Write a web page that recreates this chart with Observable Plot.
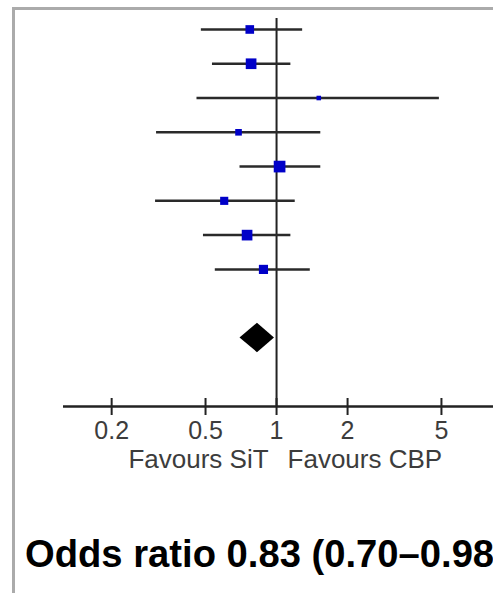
<!DOCTYPE html>
<html><head><meta charset="utf-8">
<script src="https://cdn.jsdelivr.net/npm/d3@7"></script>
<script src="https://cdn.jsdelivr.net/npm/@observablehq/plot@0.6"></script>
<style>
html,body{margin:0;padding:0;background:#fff;overflow:hidden;width:493px;height:593px;}
#chart{position:absolute;left:0;top:0;}
#frame{position:absolute;left:12px;top:7px;width:600px;height:700px;border-left:3px solid #ababab;border-top:3px solid #ababab;}
#title{position:absolute;left:25px;top:535px;font:bold 38.2px "Liberation Sans",Arial,sans-serif;line-height:38px;white-space:nowrap;color:#000;}
</style></head><body>
<div id="chart"></div>
<div id="frame"></div>
<div id="title"></div>
<script>
// Study odds ratios (top to bottom), 95% CI bounds and weights (%)
const oddsRatio = [0.77, 0.78, 1.51, 0.69, 1.03, 0.60, 0.75, 0.88];
const ciLow     = [0.48, 0.535, 0.46, 0.31, 0.70, 0.307, 0.49, 0.55];
const ciHigh    = [1.29, 1.15, 4.9, 1.54, 1.54, 1.20, 1.15, 1.39];
const weight    = [11.4, 17.4, 3.2, 6.7, 20.9, 10.1, 17.4, 12.8];
// Pooled estimate
const pooled = [0.83, 0.70, 0.98];
// Axis
const tickValues = [0.2, 0.5, 1, 2, 5];
const tickLabels = ["0.2", "0.5", "1", "2", "5"];
const sideLabels = ["Favours SiT", "Favours CBP"];

const studies = oddsRatio.map((or, i) => ({row: i, or, lo: ciLow[i], hi: ciHigh[i], w: weight[i]}));
const pooledRow = studies.length + 1;
const axisRow = studies.length + 3;
const dh = 0.43;
const diamond = [
  {y: pooledRow - dh, x1: pooled[0], x2: pooled[0]},
  {y: pooledRow, x1: pooled[1], x2: pooled[2]},
  {y: pooledRow + dh, x1: pooled[0], x2: pooled[0]}
];
const font = "Liberation Sans, Arial, sans-serif";
const grey = "#3c3c3c";

const chart = Plot.plot({
  width: 493, height: 480,
  marginLeft: 63, marginRight: 0, marginTop: 18, marginBottom: 74,
  style: {background: "transparent", fontFamily: font, overflow: "visible"},
  x: {type: "log", domain: [0.125, 8.31], axis: null},
  y: {domain: [-0.32, axisRow], range: [18, 406], axis: null},
  r: {type: "sqrt", domain: [0, 20.9], range: [0, 6.6]},
  marks: [
    Plot.ruleX([1], {stroke: "#222", strokeWidth: 2}),
    Plot.ruleY([axisRow], {stroke: "#222", strokeWidth: 2.5}),
    Plot.ruleX(tickValues, {x: d => d, y1: axisRow, y2: axisRow, insetTop: -8, insetBottom: -9, stroke: "#222", strokeWidth: 2}),
    Plot.text(tickValues, {x: d => d, y: axisRow, dy: 24, text: (d, i) => tickLabels[i], fontSize: 25, fill: grey}),
    Plot.text([sideLabels[0]], {x: 1, y: axisRow, dx: -8, dy: 53, text: d => d, textAnchor: "end", fontSize: 26, fill: grey}),
    Plot.text([sideLabels[1]], {x: 1, y: axisRow, dx: 11, dy: 53, text: d => d, textAnchor: "start", fontSize: 26, fill: grey}),
    Plot.ruleY(studies, {y: "row", x1: "lo", x2: "hi", stroke: "#2a2a2a", strokeWidth: 2.5}),
    Plot.dot(studies, {x: "or", y: "row", r: "w", symbol: "square", fill: "#0000c8", stroke: null}),
    Plot.areaX(diamond, {y: "y", x1: "x1", x2: "x2", fill: "#000"})
  ]
});
document.getElementById("chart").appendChild(chart);
document.getElementById("title").textContent =
  `Odds ratio ${pooled[0].toFixed(2)} (${pooled[1].toFixed(2)}–${pooled[2].toFixed(2)})`;
</script>
</body></html>
